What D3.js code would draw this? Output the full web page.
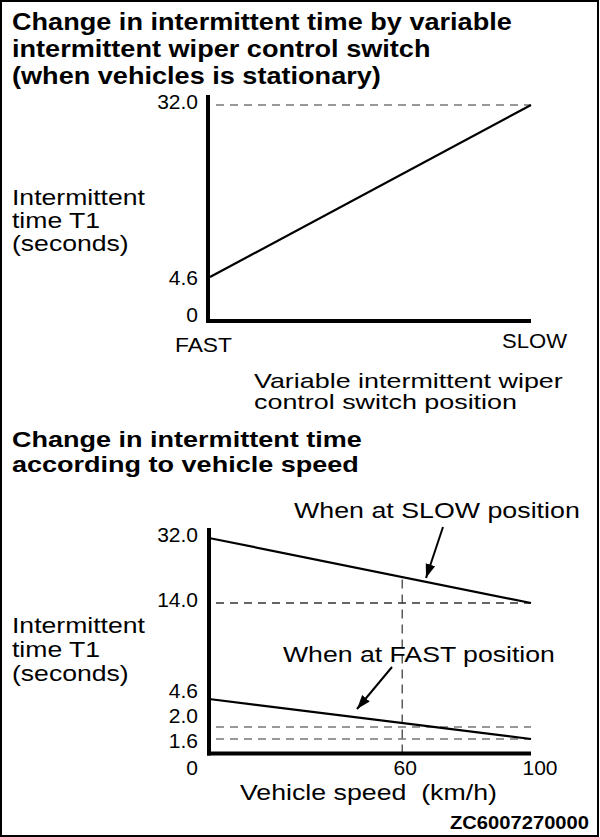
<!DOCTYPE html>
<html><head><meta charset="utf-8">
<script src="https://cdn.jsdelivr.net/npm/d3@7"></script>
<style>
html,body{margin:0;padding:0;background:#fff;}
svg text{font-family:"Liberation Sans",Arial,Helvetica,sans-serif;fill:#000;white-space:pre;}
</style></head>
<body><svg id="c" width="600" height="837"></svg>
<script>
// ---- data ----
const topTitle = ["Change in intermittent time by variable","intermittent wiper control switch","(when vehicles is stationary)"];
const topCategories = ["FAST","SLOW"];
const topValues = [4.6, 32.0];
const topTicks = [0, 4.6, 32.0];
const topTickLabels = ["0","4.6","32.0"];
const yLabel = ["Intermittent","time T1","(seconds)"];
const topXLabel = ["Variable intermittent wiper","control switch position"];

const botTitle = ["Change in intermittent time","according to vehicle speed"];
const speeds = [0, 100];
const slowValues = [32.0, 14.0];
const fastValues = [4.6, 1.6];
const botTicks = [0, 1.6, 2.0, 4.6, 14.0, 32.0];
const botTickLabels = ["0","1.6","2.0","4.6","14.0","32.0"];
const speedTicks = [60, 100];
const speedTickLabels = ["60","100"];
const refSpeed = 60;
const seriesNames = ["When at SLOW position","When at FAST position"];
const xLabel2 = "Vehicle speed  (km/h)";
const code = "ZC6007270000";

const svg = d3.select("#c");
svg.append("defs").append("marker").attr("id","ah").attr("viewBox","0 0 10 10")
  .attr("refX",10).attr("refY",5).attr("markerWidth",14).attr("markerHeight",14)
  .attr("markerUnits","userSpaceOnUse").attr("orient","auto")
  .append("path").attr("d","M0,1.5 L10,5 L0,8.5 Z").attr("fill","#000");

// frame
svg.append("rect").attr("x",1).attr("y",1).attr("width",597).attr("height",835)
  .attr("fill","none").attr("stroke","#000").attr("stroke-width",2);

function scaleX(sel, f){
  const x = +sel.attr("x");
  sel.attr("transform", `translate(${x},0) scale(${f},1) translate(${-x},0)`);
}
function fitText(sel, target){
  const w = sel.node().getComputedTextLength();
  scaleX(sel, target / w);
  return sel;
}
function lines(arr, x, y0, dy, size, weight, firstWidth){
  const sels = arr.map((t,i)=>svg.append("text").attr("x",x).attr("y",y0+i*dy)
    .attr("font-size",size).attr("font-weight",weight||"normal").text(t));
  if (firstWidth){
    const f = firstWidth / sels[0].node().getComputedTextLength();
    sels.forEach(s=>scaleX(s,f));
  }
}
function txt(x, y, s, size, anchor, weight){
  return svg.append("text").attr("x",x).attr("y",y).attr("font-size",size)
    .attr("text-anchor",anchor||"start").attr("font-weight",weight||"normal").text(s);
}

// ===== TOP CHART =====
lines(topTitle, 12, 30, 27, 23, "bold", 500);
const x1 = d3.scalePoint().domain(topCategories).range([208, 531]);
const y1 = d3.scaleLinear().domain([0, 4.6, 32]).range([321, 277, 105]);
svg.append("line").attr("x1",216).attr("x2",x1("SLOW")).attr("y1",y1(32)).attr("y2",y1(32))
  .attr("stroke","#777").attr("stroke-width",1.3).attr("stroke-dasharray","8,6");
svg.append("line").attr("x1",208).attr("x2",208).attr("y1",95).attr("y2",y1(0)+2)
  .attr("stroke","#000").attr("stroke-width",4);
svg.append("line").attr("x1",206).attr("x2",531).attr("y1",y1(0)).attr("y2",y1(0))
  .attr("stroke","#000").attr("stroke-width",4);
svg.append("path").datum(topCategories.map((c,i)=>[x1(c)+(i===0?2:0), y1(topValues[i])]))
  .attr("d",d3.line()).attr("fill","none").attr("stroke","#000").attr("stroke-width",2.2);
topTicks.forEach((v,i)=>txt(198, y1(v)+(v===0?1:(v===32?4:8)), topTickLabels[i], 21, "end"));
fitText(txt(175,352,topCategories[0],21), 57);
fitText(txt(567,348,topCategories[1],21,"end"), 65);
lines(yLabel, 12, 205, 23, 22, "normal", 133);
lines(topXLabel, 254, 388, 21, 20, "normal", 309);

// ===== BOTTOM CHART =====
lines(botTitle, 12, 447, 25, 23, "bold", 350);
const x2 = d3.scaleLinear().domain([0, 100]).range([209, 531]);
const y2 = d3.scaleLinear().domain([0, 1.6, 2.0, 4.6, 14, 32]).range([753.5, 739, 727, 699, 603, 538]);
[14, 2.0, 1.6].forEach(v=>{
  svg.append("line").attr("x1",216).attr("x2",x2(100)).attr("y1",y2(v)).attr("y2",y2(v))
    .attr("stroke", v===14?"#333":"#777").attr("stroke-width",1.3).attr("stroke-dasharray","8,6");
});
// vertical ref at 60 up to the SLOW line
const ySlowAt = y2(slowValues[0]) + (y2(slowValues[1]) - y2(slowValues[0])) * (refSpeed - speeds[0]) / (speeds[1] - speeds[0]);
svg.append("line").attr("x1",x2(refSpeed)).attr("x2",x2(refSpeed))
  .attr("y1",y2(0)).attr("y2",ySlowAt)
  .attr("stroke","#333").attr("stroke-width",1.2).attr("stroke-dasharray","9,6");
svg.append("line").attr("x1",209).attr("x2",209).attr("y1",528).attr("y2",y2(0)+2)
  .attr("stroke","#000").attr("stroke-width",4);
svg.append("line").attr("x1",207).attr("x2",531).attr("y1",y2(0)).attr("y2",y2(0))
  .attr("stroke","#000").attr("stroke-width",4);
const ln = d3.line().x(d=>x2(d[0])).y(d=>y2(d[1]));
[slowValues, fastValues].forEach(vals=>{
  svg.append("path").datum(speeds.map((s,i)=>[s, vals[i]])).attr("d",ln)
    .attr("fill","none").attr("stroke","#000").attr("stroke-width",2.2);
});
botTicks.forEach((v,i)=>txt(198,
  v===0?775:y2(v)+(v===32?4:(v===14?4:(v===4.6?-1:(v===2.0?-4:9)))),
  botTickLabels[i], 21, "end"));
speedTicks.forEach((v,i)=>txt(x2(v)+(v===100?9:3), 775, speedTickLabels[i], 21, "middle"));
lines(yLabel, 12, 633, 24, 22, "normal", 133);
fitText(txt(240,800,xLabel2,22), 257);
fitText(txt(294,518,seriesNames[0],22), 286);
fitText(txt(283,662,seriesNames[1],22), 272);
svg.append("line").attr("x1",443).attr("y1",527).attr("x2",426).attr("y2",578)
  .attr("stroke","#000").attr("stroke-width",2).attr("marker-end","url(#ah)");
svg.append("line").attr("x1",392).attr("y1",667).attr("x2",357).attr("y2",709)
  .attr("stroke","#000").attr("stroke-width",2).attr("marker-end","url(#ah)");
fitText(txt(589,829,code,18,"end","bold"), 139);
</script></body></html>
